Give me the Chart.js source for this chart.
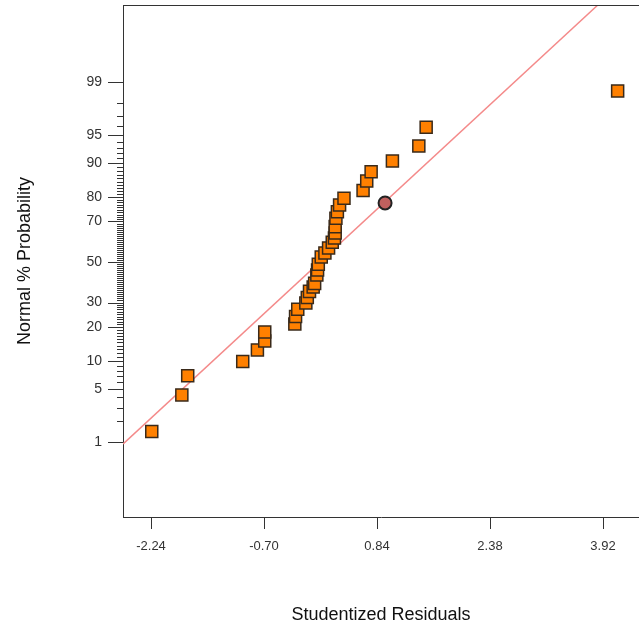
<!DOCTYPE html>
<html>
<head>
<meta charset="utf-8">
<title>Normal probability plot</title>
<script src="https://cdn.jsdelivr.net/npm/chart.js@4.4.1/dist/chart.umd.min.js"></script>
<style>
  html, body { margin: 0; padding: 0; background: #fff; overflow: hidden; }
  #wrap { width: 639px; height: 630px; }
</style>
</head>
<body>
<div id="wrap"><canvas id="chart" width="639" height="630"></canvas></div>
<script>
// studentized residuals and their normal % probability
const residuals = [-2.23, -1.82, -1.74, -0.99, -0.79, -0.69, -0.69, -0.28, -0.27, -0.24,
  -0.13, -0.11, -0.08, -0.03, -0.01, 0.02, 0.03, 0.04, 0.08, 0.13,
  0.18, 0.23, 0.26, 0.27, 0.27, 0.28, 0.30, 0.33, 0.39, 0.65,
  0.70, 0.76, 1.05, 1.41, 1.51, 4.12];
const probabilities = [1.43, 4.29, 7.09, 9.94, 12.78, 15.37, 18.3, 21.16, 24.07, 27.06,
  29.8, 32.3, 35.2, 37.3, 39.1, 43.3, 45.9, 48.8, 52.6, 54.6,
  57.2, 60.1, 62.2, 64.6, 67.6, 71.4, 74.2, 76.9, 79.5, 82.2,
  85.2, 87.8, 90.4, 93.3, 95.9, 98.64];

// the highlighted run
const highlightResidual = [0.95];
const highlightProbability = [77.7];

// normal fit line
const fitLineX = [-2.62, 3.85];
const fitLineProbability = [0.936, 99.955];

const xTickValues = [-2.24, -0.70, 0.84, 2.38, 3.92];
const yLabelled = [1, 5, 10, 20, 30, 50, 70, 80, 90, 95, 99];
const yMinor = Array.from({ length: 99 }, (_, i) => i + 1);

// inverse of the standard normal cdf (Acklam)
const probit = (p) => {
    const a = [-39.69683028665376, 220.9460984245205, -275.9285104469687, 138.3577518672690, -30.66479806614716, 2.506628277459239];
    const b = [-54.47609879822406, 161.5858368580409, -155.6989798598866, 66.80131188771972, -13.28068155288572];
    const c = [-0.007784894002430293, -0.3223964580411365, -2.400758277161838, -2.549732539343734, 4.374664141464968, 2.938163982698783];
    const d = [0.007784695709041462, 0.3224671290700398, 2.445134137142996, 3.754408661907416];
    const tail = (q) => (((((c[0] * q + c[1]) * q + c[2]) * q + c[3]) * q + c[4]) * q + c[5]) /
        ((((d[0] * q + d[1]) * q + d[2]) * q + d[3]) * q + 1);
    if (p < 0.02425) return tail(Math.sqrt(-2 * Math.log(p)));
    if (p > 1 - 0.02425) return -tail(Math.sqrt(-2 * Math.log(1 - p)));
    const q = p - 0.5, r = q * q;
    return (((((a[0] * r + a[1]) * r + a[2]) * r + a[3]) * r + a[4]) * r + a[5]) * q /
        (((((b[0] * r + b[1]) * r + b[2]) * r + b[3]) * r + b[4]) * r + 1);
};
const zOf = (pct) => probit(pct / 100);

const toPoints = (xs, ps) => xs.map((x, i) => ({ x, y: zOf(ps[i]) }));

// tick marks of the probability axis plus the top frame line
const axisTicks = {
    id: 'axisTicks',
    afterDraw(chart) {
        const { ctx, chartArea, scales: { x, y } } = chart;
        ctx.save();
        ctx.strokeStyle = '#333';
        ctx.lineWidth = 1;
        ctx.beginPath();
        yMinor.forEach(p => {
            const py = Math.round(y.getPixelForValue(zOf(p))) + 0.5;
            const len = yLabelled.includes(p) ? 15 : 6;
            ctx.moveTo(chartArea.left - len, py);
            ctx.lineTo(chartArea.left, py);
        });
        xTickValues.forEach(v => {
            const px = Math.round(x.getPixelForValue(v)) + 0.5;
            ctx.moveTo(px, chartArea.bottom);
            ctx.lineTo(px, chartArea.bottom + 12);
        });
        ctx.moveTo(chartArea.left, chartArea.top + 0.5);
        ctx.lineTo(chartArea.right, chartArea.top + 0.5);
        ctx.stroke();
        ctx.restore();
    }
};

const font = { family: '"Liberation Sans", Arial, sans-serif' };

new Chart(document.getElementById('chart'), {
    type: 'scatter',
    data: {
        datasets: [
            {
                label: 'fit',
                type: 'line',
                data: toPoints(fitLineX, fitLineProbability),
                borderColor: '#F48A8A',
                borderWidth: 1.5,
                pointRadius: 0,
                order: 3
            },
            {
                label: 'residuals',
                data: toPoints(residuals, probabilities),
                pointStyle: 'rect',
                pointRadius: 8.5,
                backgroundColor: '#FF8000',
                borderColor: '#3a2a1a',
                borderWidth: 1.5,
                order: 2
            },
            {
                label: 'highlight',
                data: toPoints(highlightResidual, highlightProbability),
                pointStyle: 'circle',
                pointRadius: 6.5,
                backgroundColor: '#C0605E',
                borderColor: '#222',
                borderWidth: 2,
                order: 1
            }
        ]
    },
    options: {
        responsive: false,
        animation: false,
        layout: { autoPadding: false, padding: { top: 5, right: 0, left: 0, bottom: 0 } },
        plugins: { legend: { display: false }, tooltip: { enabled: false } },
        scales: {
            x: {
                type: 'linear',
                min: -2.622,
                max: 4.411,
                grid: { drawOnChartArea: false, drawTicks: false },
                border: { display: true, color: '#333', width: 1 },
                afterBuildTicks: (scale) => { scale.ticks = xTickValues.map(v => ({ value: v })); },
                afterFit: (scale) => { scale.height = 113; scale.paddingLeft = 0; scale.paddingRight = 0; },
                ticks: {
                    autoSkip: false,
                    maxRotation: 0,
                    padding: 22,
                    color: '#333',
                    font: { ...font, size: 13 },
                    callback: (v) => v.toFixed(2)
                },
                title: {
                    display: true,
                    text: 'Studentized Residuals',
                    color: '#111',
                    font: { ...font, size: 18 },
                    padding: { top: 0, bottom: 4 }
                }
            },
            y: {
                type: 'linear',
                min: -3.295,
                max: 3.32,
                grid: { drawOnChartArea: false, drawTicks: false },
                border: { display: true, color: '#333', width: 1 },
                afterBuildTicks: (scale) => { scale.ticks = yLabelled.map(p => ({ value: zOf(p) })); },
                afterFit: (scale) => { scale.width = 123; scale.paddingTop = 0; scale.paddingBottom = 0; },
                ticks: {
                    autoSkip: false,
                    padding: 21,
                    color: '#333',
                    font: { ...font, size: 14 },
                    callback: (v, i) => String(yLabelled[i])
                },
                title: {
                    display: true,
                    text: 'Normal % Probability',
                    color: '#111',
                    font: { ...font, size: 18 },
                    padding: { top: 14, bottom: 0 }
                }
            }
        }
    },
    plugins: [axisTicks]
});
</script>
</body>
</html>
